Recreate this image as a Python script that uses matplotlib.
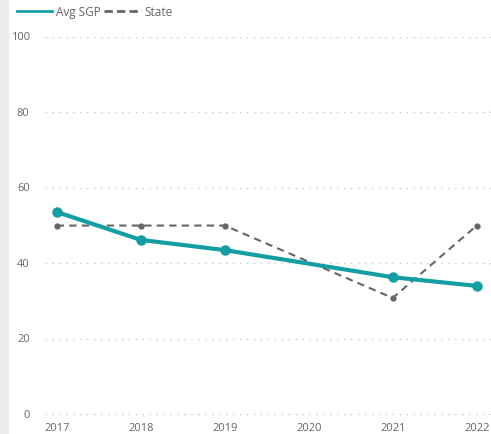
import matplotlib.pyplot as plt
from matplotlib.lines import Line2D
from matplotlib.patches import Rectangle

# Data (no value for 2020, line connects across it)
years = [2017, 2018, 2019, 2021, 2022]
avg_sgp = [53.6, 46.2, 43.5, 36.3, 34.0]
state = [50.0, 50.0, 50.0, 30.8, 50.0]
tick_years = [2017, 2018, 2019, 2020, 2021, 2022]
y_ticks = [0, 20, 40, 60, 80, 100]

teal = '#139EA3'
gray = '#666666'
label_col = '#666666'

plt.rcParams['font.family'] = ['Open Sans', 'DejaVu Sans']

fig = plt.figure(figsize=(4.91, 4.35), dpi=100)
fig.patches.append(Rectangle((0, 0), 8 / 491, 1, transform=fig.transFigure,
                             color='#EBEBEB', zorder=0))
ax = fig.add_axes([45 / 491, 1 - 417 / 435, 446 / 491, 379 / 435])

ax.plot(years, state, color=gray, linestyle=(0, (3.5, 2.5)), linewidth=1.5,
        marker='o', markersize=3.5, zorder=2)
ax.plot(years, avg_sgp, color=teal, linewidth=3, marker='o', markersize=6.5,
        zorder=3, solid_capstyle='round')

ax.set_xlim(2016.86, 2022.17)
ax.set_ylim(-0.5, 100)
ax.set_xticks(tick_years)
ax.set_xticklabels([str(y) for y in tick_years])
ax.set_yticks(y_ticks)
ax.grid(axis='y', color='#C8C8C8', linestyle=(0, (1, 4)), linewidth=1)
ax.set_axisbelow(True)
for s in ax.spines.values():
    s.set_visible(False)
ax.tick_params(length=0, labelsize=8, labelcolor=label_col)
ax.tick_params(axis='x', pad=4)
ax.tick_params(axis='y', pad=11)
for lbl in ax.get_yticklabels():
    lbl.set_verticalalignment('center')

handles = [Line2D([], [], color=teal, linewidth=2),
           Line2D([], [], color=gray, linestyle=(0, (3, 1.5)), linewidth=2)]
fig.legend(handles, ['Avg SGP', 'State'], loc='upper left',
           bbox_to_anchor=(0.012, 1.01), ncol=2, frameon=False, fontsize=8.5,
           labelcolor=label_col, handlelength=3.0, handletextpad=0.35,
           columnspacing=0.3)

fig.savefig('out.png', dpi=100)
